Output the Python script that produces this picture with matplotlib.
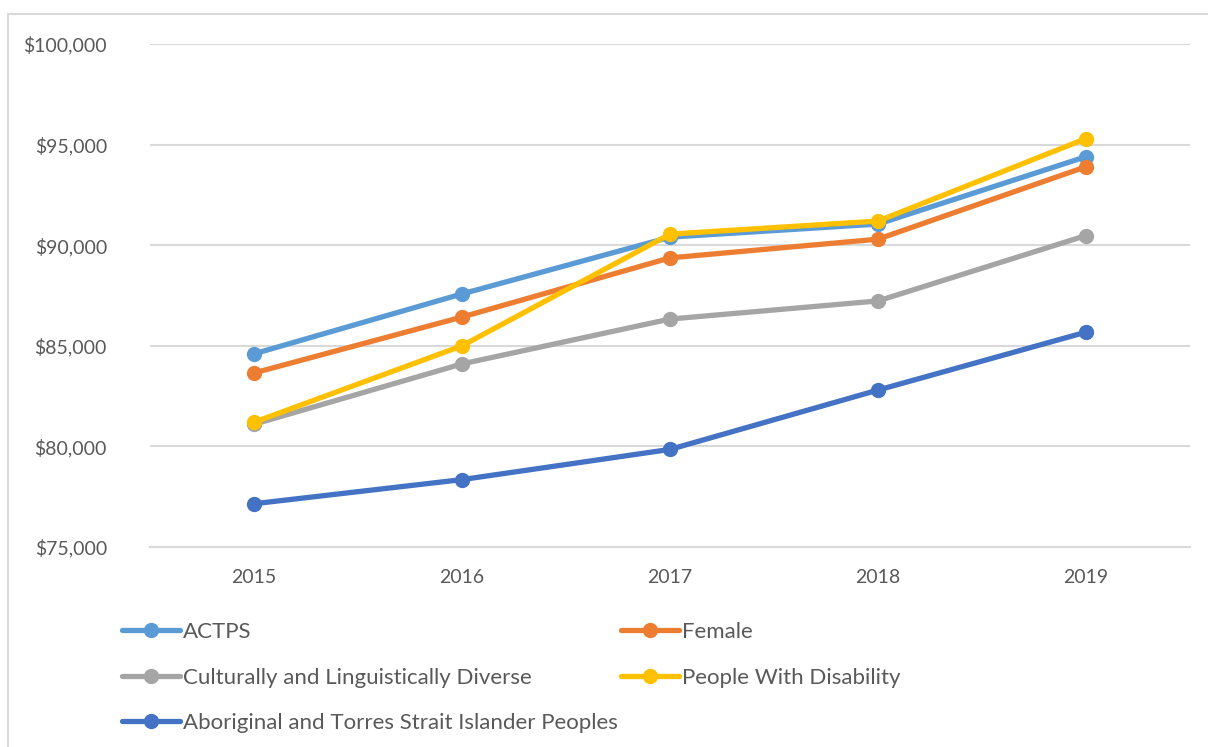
import matplotlib.pyplot as plt
from matplotlib.patches import Rectangle
from matplotlib.ticker import FuncFormatter

plt.rcParams['font.family'] = ['Lato', 'DejaVu Sans']

years = ['2015', '2016', '2017', '2018', '2019']
actps = [84600, 87580, 90400, 91050, 94400]
female = [83650, 86430, 89370, 90300, 93900]
cald = [81100, 84100, 86330, 87230, 90480]
disability = [81200, 85000, 90550, 91200, 95300]
atsi = [77150, 78350, 79850, 82800, 85680]

series = [
    ('ACTPS', actps, '#5B9BD5'),
    ('Female', female, '#ED7D31'),
    ('Culturally and Linguistically Diverse', cald, '#A5A5A5'),
    ('People With Disability', disability, '#FFC000'),
    ('Aboriginal and Torres Strait Islander Peoples', atsi, '#4472C4'),
]

text_col = '#595959'
grid_col = '#D9D9D9'

fig = plt.figure(figsize=(12.08, 7.47), dpi=100)
ax = fig.add_axes([150 / 1208, 1 - 547 / 747, 1040 / 1208, 503 / 747])

# outer chart frame
fig.patches.append(Rectangle((8 / 1208, -0.2), 1.2, 1 - 14 / 747 + 0.2,
                             transform=fig.transFigure, fill=False,
                             edgecolor=grid_col, linewidth=1.5))

x = list(range(len(years)))
handles = {}
for name, vals, col in series:
    h, = ax.plot(x, vals, color=col, lw=3.8, marker='o', ms=10,
                 solid_capstyle='round', label=name)
    handles[name] = h

ax.set_xlim(-0.5, 4.5)
ax.set_ylim(75000, 100000)
ax.set_yticks(range(75000, 100001, 5000))
ax.yaxis.set_major_formatter(FuncFormatter(lambda v, p: '${:,.0f}'.format(v)))
ax.set_xticks(x)
ax.set_xticklabels(years)
ax.grid(axis='y', color=grid_col, lw=1.5)
ax.set_axisbelow(True)
for s in ['top', 'right', 'left']:
    ax.spines[s].set_visible(False)
ax.spines['bottom'].set_color(grid_col)
ax.spines['bottom'].set_linewidth(1.5)
ax.tick_params(axis='both', length=0, labelsize=14, colors=text_col)
ax.tick_params(axis='y', pad=31)
ax.tick_params(axis='x', pad=16)

# legend filled column by column, so order entries to read across rows
order = ['ACTPS', 'Culturally and Linguistically Diverse',
         'Aboriginal and Torres Strait Islander Peoples',
         'Female', 'People With Disability']
leg = fig.legend([handles[n] for n in order], order, ncol=2,
                 loc='upper left', bbox_to_anchor=(122 / 1208, 1 - 622 / 747),
                 frameon=False, fontsize=16, handlelength=2.6,
                 handletextpad=0.15, labelspacing=1.15, columnspacing=0.15,
                 borderaxespad=0, borderpad=0)
for t in leg.get_texts():
    t.set_color(text_col)

fig.savefig('out.png', dpi=100)
